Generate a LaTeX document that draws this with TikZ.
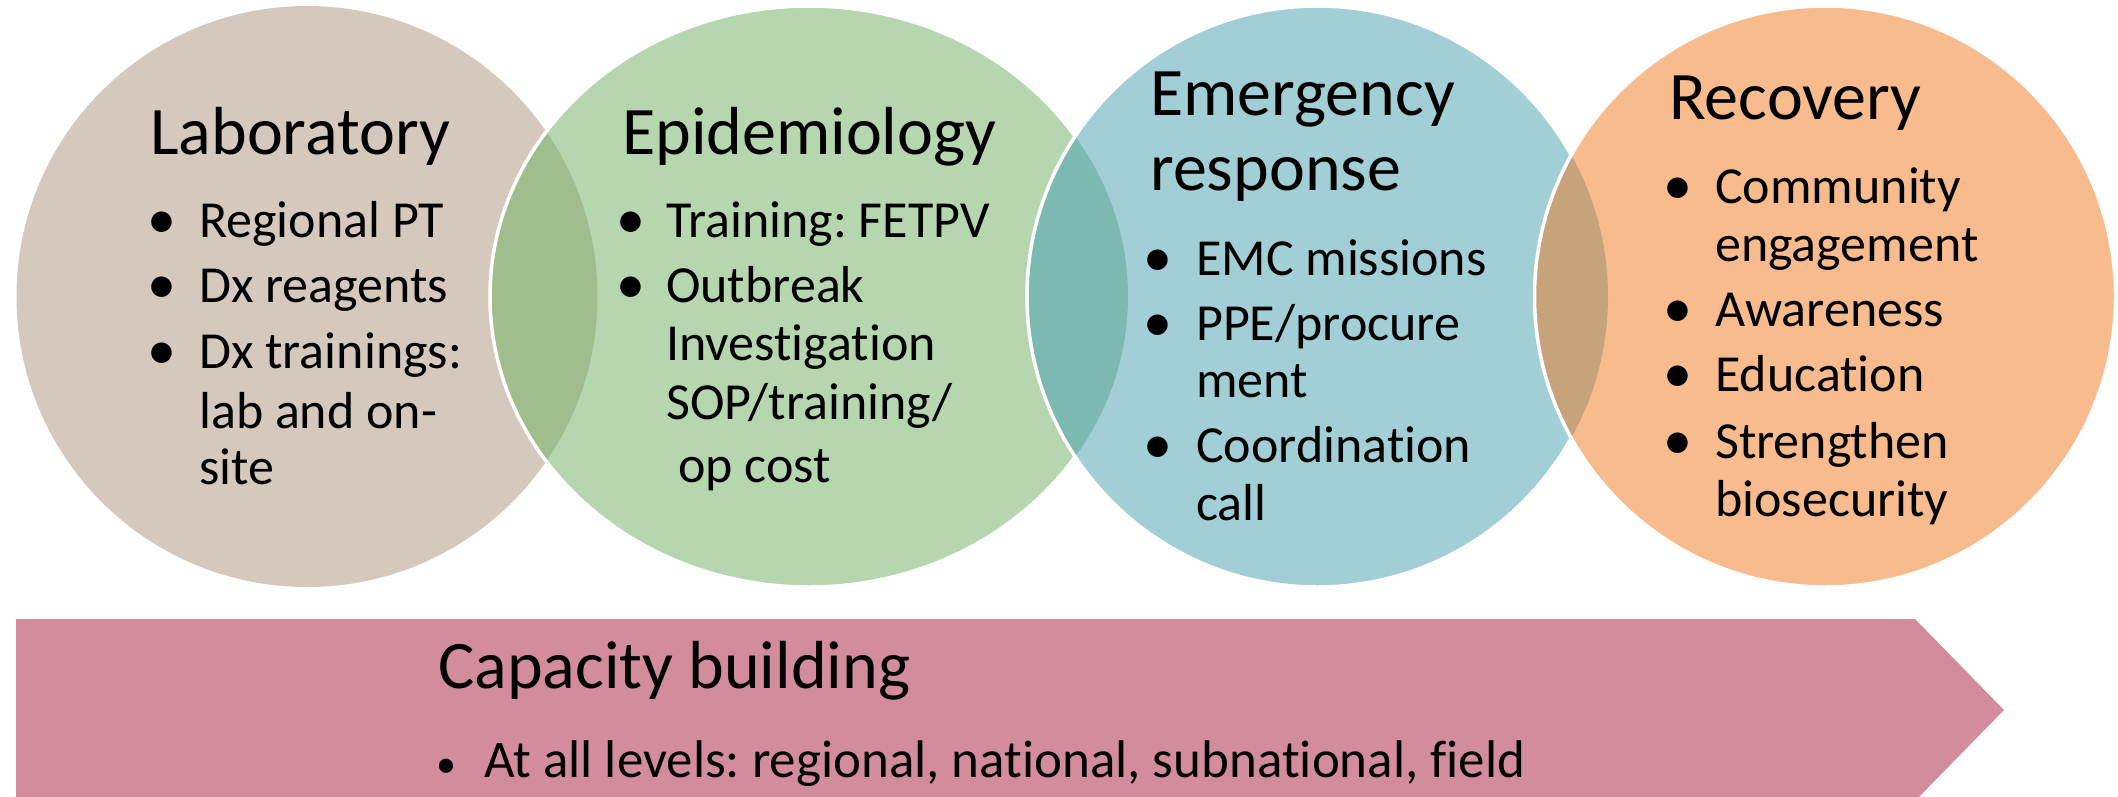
\documentclass[tikz,border=0pt]{standalone}
\usepackage{fontspec}
\setmainfont{Carlito}[Ligatures=NoCommon]
\frenchspacing
\definecolor{labc}{HTML}{D5C9BE}
\definecolor{epic}{HTML}{B5D6AE}
\definecolor{labepi}{HTML}{9FBD8D}
\definecolor{emc}{HTML}{A2CED6}
\definecolor{epiemc}{HTML}{7CB9B0}
\definecolor{recc}{HTML}{F7BB8E}
\definecolor{emcrec}{HTML}{C7A37C}
\definecolor{capc}{HTML}{D28C9B}
\begin{document}
\begin{tikzpicture}[x=1pt,y=-1pt,
  ttl/.style={anchor=base west, inner sep=0pt, font=\fontsize{68}{75}\selectfont},
  itm/.style={anchor=base west, inner sep=0pt, font=\fontsize{52}{57}\selectfont},
  bul/.style={anchor=base, inner sep=0pt, font=\fontsize{58}{62}\selectfont},
  ring/.style={draw=white, line width=3.5pt}]
\useasboundingbox (0,0) rectangle (2118,796);
% circles
\fill[labc] (307,296.5) circle[radius=290.5pt];
% epidemiology
\fill[epic] (809,296.5) ellipse[x radius=319pt, y radius=290.5pt];
\begin{scope}
  \clip (307,296.5) circle[radius=290.5pt];
  \fill[labepi] (809,296.5) ellipse[x radius=319pt, y radius=290.5pt];
\end{scope}
\draw[ring] (809,296.5) ellipse[x radius=319pt, y radius=290.5pt];
% emergency
\fill[emc] (1317.5,296.5) circle[radius=290.5pt];
\begin{scope}
  \clip (809,296.5) ellipse[x radius=319pt, y radius=290.5pt];
  \fill[epiemc] (1317.5,296.5) circle[radius=290.5pt];
\end{scope}
\draw[ring] (1317.5,296.5) circle[radius=290.5pt];
% recovery
\fill[recc] (1825,296.5) circle[radius=290.5pt];
\begin{scope}
  \clip (1317.5,296.5) circle[radius=290.5pt];
  \fill[emcrec] (1825,296.5) circle[radius=290.5pt];
\end{scope}
\draw[ring] (1825,296.5) circle[radius=290.5pt];
% arrow
\begin{scope}
  \clip (0,0) rectangle (2118,796);
  \fill[capc] (16,619) -- (1915,619) -- (2004,710) -- (1915,801) -- (16,801) -- cycle;
\end{scope}
% Laboratory text
\node[ttl] (labt) at (150,154) {Laboratory};
\node[bul] (lb1) at (162,238) {•};
\node[itm] (l1) at (199,237) {Regional PT};
\node[bul] (lb2) at (162,303) {•};
\node[itm] (l2) at (199,302) {Dx reagents};
\node[bul] (lb3) at (162,369) {•};
\node[itm] (l3) at (199,368) {Dx trainings:};
\node[itm] (l3b) at (199,428) {lab and on-};
\node[itm] (l3c) at (199,484) {site};
% Epidemiology text
\node[ttl] (epit) at (622,154) {Epidemiology};
\node[bul] (eb1) at (631,238) {•};
\node[itm] (e1) at (666,237) {Training: FETPV};
\node[bul] (eb2) at (631,303) {•};
\node[itm] (e2) at (666,302) {Outbreak};
\node[itm] (e2b) at (666,360) {Investigation};
\node[itm] (e2c) at (666,419) {SOP/training/};
\node[itm] (e2d) at (678,482) {op cost};
% Emergency text
\node[ttl] (emt1) at (1150,115) {Emergency};
\node[ttl] (emt2) at (1150,190) {response};
\node[bul] (mb1) at (1158,276) {•};
\node[itm] (m1) at (1196,275) {EMC missions};
\node[bul] (mb2) at (1158,341) {•};
\node[itm] (m2) at (1196,340) {PPE/procure};
\node[itm] (m2b) at (1196,397) {ment};
\node[bul] (mb3) at (1158,463) {•};
\node[itm] (m3) at (1196,462) {Coordination};
\node[itm] (m3b) at (1196,520) {call};
% Recovery text
\node[ttl] (rect) at (1669,119) {Recovery};
\node[bul] (rb1) at (1678,204.5) {•};
\node[itm] (r1) at (1715,203.5) {Community};
\node[itm] (r1b) at (1715,261) {engagement};
\node[bul] (rb2) at (1678,327) {•};
\node[itm] (r2) at (1715,326) {Awareness};
\node[bul] (rb3) at (1678,392) {•};
\node[itm] (r3) at (1715,391) {Education};
\node[bul] (rb4) at (1678,459.5) {•};
\node[itm] (r4) at (1715,458.5) {Strengthen};
\node[itm] (r4b) at (1715,516) {biosecurity};
% Capacity building
\node[ttl] (capt) at (438,688) {Capacity building};
\node[anchor=base, inner sep=0pt, font=\fontsize{40}{44}\selectfont] (cb1) at (446,777) {•};
\node[anchor=base west, inner sep=0pt, font=\fontsize{53}{58}\selectfont] (c1) at (484,777) {At all levels: regional, national, subnational, field};
\end{tikzpicture}
\end{document}
